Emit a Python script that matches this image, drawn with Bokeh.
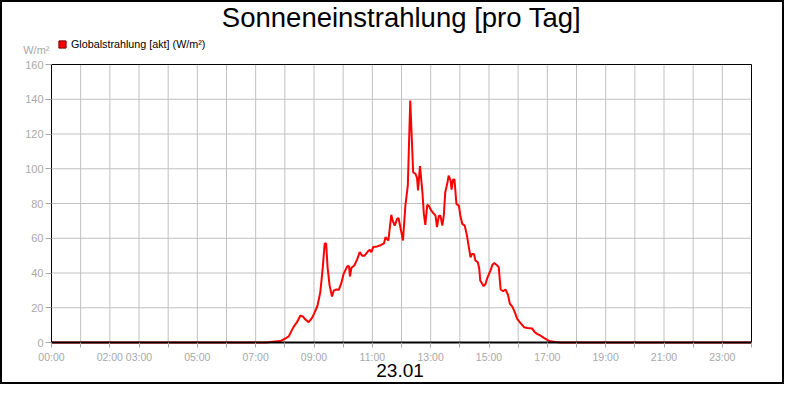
from bokeh.plotting import figure
from bokeh.models import Range1d, FixedTicker, Label, Legend, LegendItem
from bokeh.embed import file_html
from bokeh.resources import INLINE

TITLE = "Sonneneinstrahlung [pro Tag]"
DATE_LABEL = "23.01"
UNIT_LABEL = "W/m²"
SERIES_NAME = "Globalstrahlung [akt] (W/m²)"

TIMES = [
    "00:00", "07:22", "07:35", "07:51", "08:01", "08:08", "08:18", "08:25", "08:32", "08:37",
    "08:41", "08:49", "08:56", "09:00", "09:07", "09:13", "09:18", "09:22", "09:25", "09:28",
    "09:32", "09:37", "09:41", "09:46", "09:51", "09:56", "10:01", "10:08", "10:12", "10:14",
    "10:17", "10:23", "10:29", "10:34", "10:39", "10:44", "10:51", "10:55", "10:58", "11:02",
    "11:10", "11:17", "11:24", "11:27", "11:33", "11:39", "11:42", "11:46", "11:51", "11:54",
    "11:59", "12:03", "12:08", "12:13", "12:18", "12:24", "12:29", "12:32", "12:34", "12:38",
    "12:43", "12:46", "12:49", "12:53", "12:56", "13:01", "13:05", "13:10", "13:13", "13:17",
    "13:20", "13:24", "13:27", "13:30", "13:34", "13:37", "13:41", "13:43", "13:46", "13:49",
    "13:53", "13:58", "14:01", "14:05", "14:10", "14:14", "14:18", "14:22", "14:25", "14:29",
    "14:32", "14:37", "14:40", "14:42", "14:46", "14:49", "14:53", "14:56", "15:00", "15:03",
    "15:07", "15:11", "15:17", "15:20", "15:24", "15:29", "15:34", "15:39", "15:43", "15:48",
    "15:53", "15:58", "16:05", "16:12", "16:19", "16:29", "16:34", "16:39", "16:46", "16:53",
    "17:00", "17:06", "17:17", "17:27", "24:00",
]
VALUES = [
    0, 0, 0.4, 0.8, 2.3, 3.5, 9, 11.7, 15.5, 15,
    13.6, 11.7, 14.2, 16.5, 21, 29, 43, 57, 57, 43,
    33, 26.5, 30, 30.5, 30.3, 34, 39.5, 43.7, 44, 38,
    43, 44.3, 48, 52, 50, 50, 52.5, 53.4, 52, 55,
    55.3, 56, 57, 60.6, 58.7, 73.5, 70, 67.3, 71.2, 71.5,
    64.5, 58.7, 78.8, 90.4, 139.3, 98, 97, 94.6, 87.5, 101.5,
    86.5, 74, 67.7, 79.2, 78.8, 76, 74.6, 73, 66.4, 73,
    73, 67.3, 73, 86.5, 91.3, 96, 93.2, 88, 93.8, 93.8,
    79.8, 78.8, 73, 68.3, 67.3, 62.5, 55.8, 49, 51, 51,
    47.2, 46.2, 42.4, 35.7, 33.8, 32.4, 33.8, 36.7, 39.5, 41.4,
    44.7, 45.7, 44.3, 43.4, 30.5, 29.5, 30.5, 27.5, 22.3, 20.7,
    17.5, 13.6, 11.1, 8.8, 8.4, 8, 6, 5, 4, 2.7,
    1.5, 0.7, 0.3, 0, 0,
]

Y_TICKS = [0, 20, 40, 60, 80, 100, 120, 140, 160]
X_TICK_HOURS = list(range(0, 25))
LABELED_HOURS = [0, 2, 3, 5, 7, 9, 11, 13, 15, 17, 19, 21, 23]
X_START, X_END = 0, 24
Y_START, Y_END = 0, 160

FONT = "Liberation Sans"
GRAY_TEXT = "#a8a8a8"
GRID = "#c0c0c0"

# layout: canvas 784x384; plot box 700 px wide x 278 px tall, 49 px from left, 62 px from top
W, H = 784, 384
BOX_L, BOX_T, BOX_W, BOX_H = 49, 62, 700, 278
px_x = BOX_W / (X_END - X_START)
px_y = BOX_H / (Y_END - Y_START)
x_lo = X_START - BOX_L / px_x
x_hi = X_END + (W - BOX_L - BOX_W) / px_x
y_hi = Y_END + BOX_T / px_y
y_lo = Y_START - (H - BOX_T - BOX_H) / px_y


def to_hours(t):
    h, m = t.split(":")
    return int(h) + int(m) / 60.0


hours = [to_hours(t) for t in TIMES]

p = figure(
    width=W, height=H,
    x_range=Range1d(x_lo, x_hi), y_range=Range1d(y_lo, y_hi),
    output_backend="svg", toolbar_location=None,
    min_border=0, min_border_left=0, min_border_right=0, min_border_top=0, min_border_bottom=0,
    background_fill_color="white", border_fill_color="white",
)
p.styles = {"border": "2px solid black"}
p.outline_line_color = None
p.xgrid.visible = False
p.ygrid.visible = False

# axes drawn at the plot box edges
p.xaxis.ticker = FixedTicker(ticks=X_TICK_HOURS)
p.xaxis.major_label_overrides = {
    h: (f"{h:02d}:00" if h in LABELED_HOURS else "") for h in X_TICK_HOURS
}
p.yaxis.ticker = FixedTicker(ticks=Y_TICKS)
p.xaxis.fixed_location = Y_START
p.yaxis.fixed_location = X_START
p.xaxis.bounds = (X_START, X_END)
p.yaxis.bounds = (Y_START, Y_END)
for ax in (p.xaxis[0], p.yaxis[0]):
    ax.axis_line_color = "black"
    ax.major_tick_line_color = "#a8a8a8"
    ax.major_tick_in = 0
    ax.minor_tick_in = 0
    ax.minor_tick_out = 0
    ax.major_label_text_font = FONT
    ax.major_label_text_color = GRAY_TEXT
p.xaxis.major_label_text_font_size = "10.5px"
p.yaxis.major_label_text_font_size = "11px"
p.xaxis.axis_line_width = 2
p.xaxis.major_tick_out = 5
p.xaxis.major_label_standoff = 3
p.yaxis.axis_line_width = 1
p.yaxis.major_tick_out = 6
p.yaxis.major_label_standoff = 2

# grid lines inside the plot box (from the tick lists)
vx = [h for h in X_TICK_HOURS if X_START < h < X_END]
p.segment(x0=vx, y0=[Y_START] * len(vx), x1=vx, y1=[Y_END] * len(vx),
          line_color=GRID, line_width=1)
hy = [v for v in Y_TICKS if Y_START < v < Y_END]
p.segment(x0=[X_START] * len(hy), y0=hy, x1=[X_END] * len(hy), y1=hy,
          line_color=GRID, line_width=1)
# top and right edges of the plot box
p.segment(x0=[X_START, X_END], y0=[Y_END, Y_START], x1=[X_END, X_END], y1=[Y_END, Y_END],
          line_color="black", line_width=1)

p.line(hours, VALUES, line_color="#ff0000", line_width=2)

# legend swatch (renderer with no visible point, only used for the legend)
nan = float("nan")
sq = p.scatter(x=[nan], y=[nan], marker="square", size=7, fill_color="#ff0000", line_color="#700000")
legend = Legend(
    items=[LegendItem(label=SERIES_NAME, renderers=[sq])],
    location=(51, 333), glyph_width=18, glyph_height=18, label_standoff=0,
    padding=0, margin=0, spacing=0, label_height=18,
    label_text_font=FONT, label_text_font_size="10.75px", label_text_color="black",
    background_fill_alpha=0, border_line_alpha=0,
)
p.add_layout(legend)

# texts
p.add_layout(Label(x=12, y=187.3, text=TITLE, text_align="center", text_baseline="alphabetic",
                   text_font=FONT, text_font_size="27.5px", text_color="black"))
p.add_layout(Label(x=11.95, y=-16.4, text=DATE_LABEL, text_align="center", text_baseline="alphabetic",
                   text_font=FONT, text_font_size="19px", text_color="black"))
p.add_layout(Label(x=-0.97, y=168.5, text=UNIT_LABEL, text_align="left", text_baseline="alphabetic",
                   text_font=FONT, text_font_size="11px", text_color=GRAY_TEXT))

open("out.html", "w").write(file_html(p, INLINE))
